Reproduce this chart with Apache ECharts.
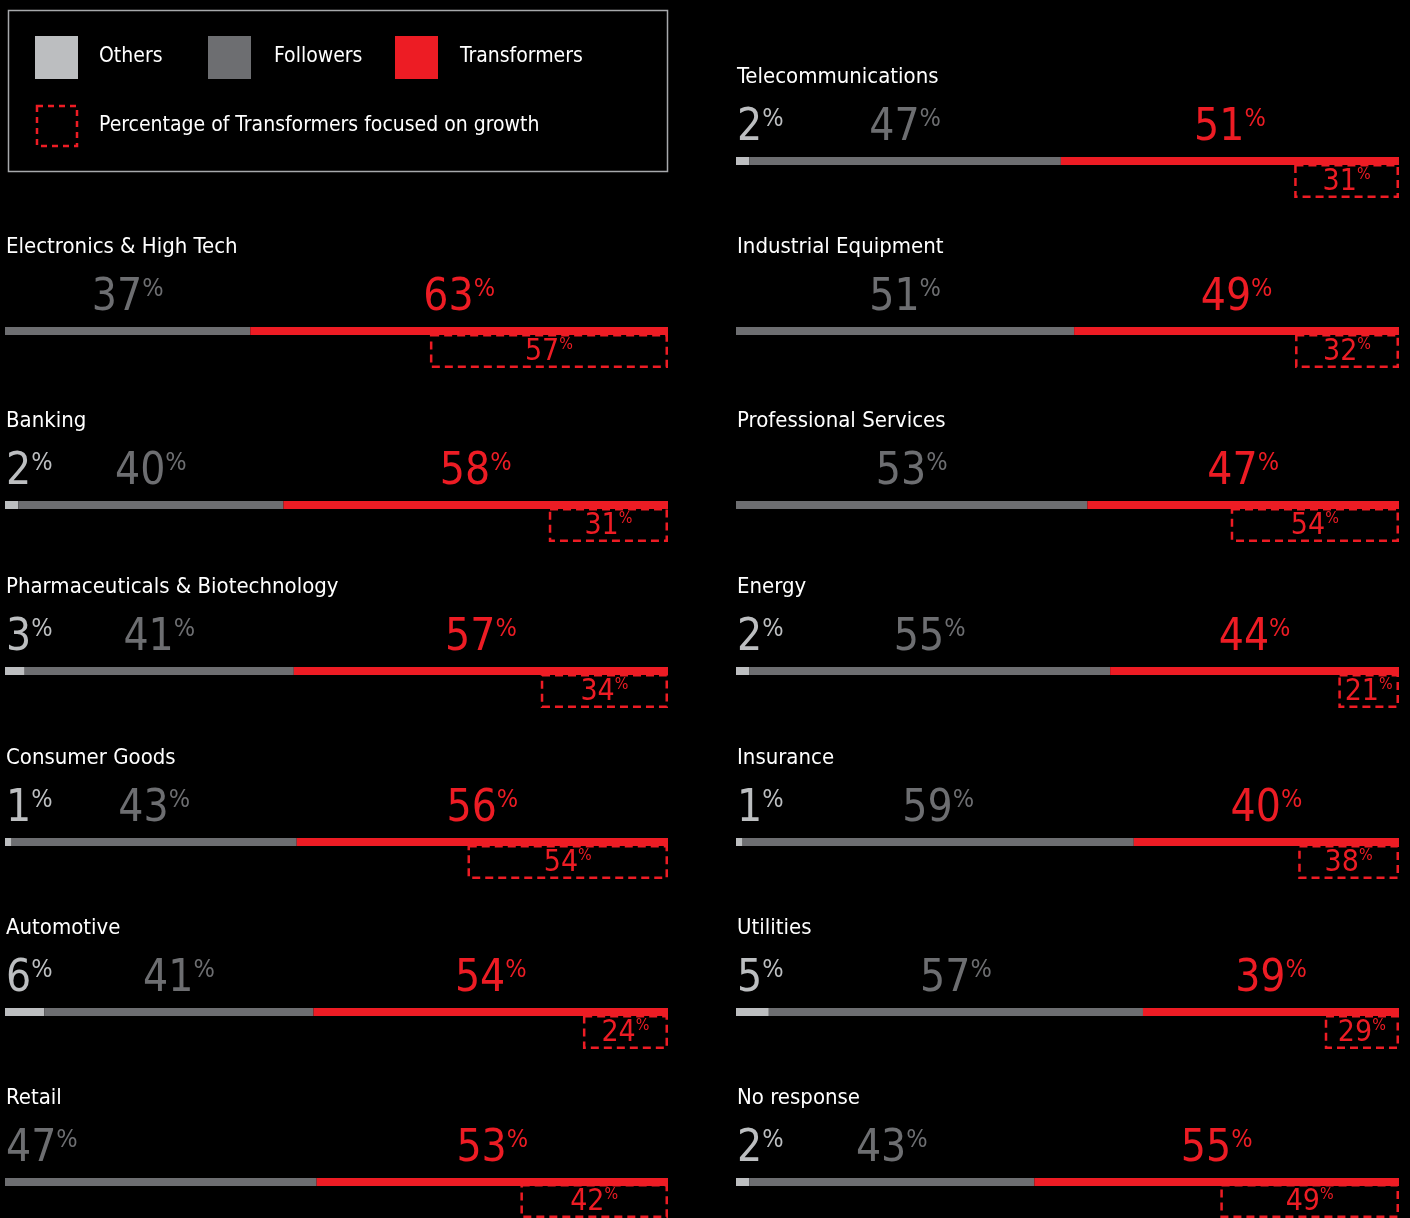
<!DOCTYPE html>
<html>
<head>
<meta charset="utf-8">
<script src="https://cdn.jsdelivr.net/npm/echarts@6/dist/echarts.min.js"></script>
<style>
  html, body { margin: 0; padding: 0; background: #000; }
  #chart { width: 1410px; height: 1218px; }
</style>
</head>
<body>
<div id="chart"></div>
<script>
// data (left column first, then right column)
var sectors = ['Electronics & High Tech', 'Banking', 'Pharmaceuticals & Biotechnology', 'Consumer Goods',
  'Automotive', 'Retail', 'Telecommunications', 'Industrial Equipment', 'Professional Services',
  'Energy', 'Insurance', 'Utilities', 'No response'];
var others       = [0, 2, 3, 1, 6, 0, 2, 0, 0, 2, 1, 5, 2];
var followers    = [37, 40, 41, 43, 41, 47, 47, 51, 53, 55, 59, 57, 43];
var transformers = [63, 58, 57, 56, 54, 53, 51, 49, 47, 44, 40, 39, 55];
var growth       = [57, 31, 34, 54, 24, 42, 31, 32, 54, 21, 38, 29, 49];

var FONT = '"Liberation Sans Narrow", "DejaVu Sans Condensed", sans-serif';
var C_OTH = '#bcbec0', C_FOL = '#6d6e71', C_TR = '#ed1c24';
var rowTop = [157, 327, 501, 667, 838, 1008, 1178];
var BAR_W = 663;
var leftAlignFollowers = ['Retail'];

function place(i) {
  return i < 6 ? { x: 5, row: i + 1 } : { x: 736, row: i - 6 };
}

function pctRich(color, big, small) {
  return {
    n: { fontSize: big, fontFamily: FONT, color: color },
    p: { fontSize: small, fontFamily: FONT, color: color, verticalAlign: 'top' }
  };
}

var grid = [], xAxis = [], yAxis = [], series = [], title = [];

sectors.forEach(function (name, i) {
  var p = place(i), top = rowTop[p.row];
  var total = others[i] + followers[i] + transformers[i];
  var g = grid.length;
  var boxVal = transformers[i] * growth[i] / 100;

  grid.push({ left: p.x, top: top, width: BAR_W, height: 8 });
  grid.push({ left: p.x, top: top + 6, width: BAR_W, height: 36 });
  [g, g + 1].forEach(function (k) {
    xAxis.push({ type: 'value', gridIndex: k, min: 0, max: total, show: false });
    yAxis.push({ type: 'category', gridIndex: k, data: [name], show: false });
  });

  title.push({
    text: name, left: p.x + 1, top: top - 91, padding: 0,
    textStyle: { color: '#fff', fontSize: 22, fontWeight: 'normal', fontFamily: FONT }
  });

  function numLabel(v, color, leftAlign) {
    var lbl = {
      show: v > 0,
      formatter: '{n|' + v + '}{p|%}',
      rich: pctRich(color, 44, 25)
    };
    if (leftAlign) {
      lbl.position = [1, -6];
      lbl.align = 'left';
      lbl.verticalAlign = 'bottom';
    } else {
      lbl.position = 'top';
      lbl.distance = 6;
    }
    return lbl;
  }

  var base = { type: 'bar', xAxisIndex: g, yAxisIndex: g, stack: 'p' + i, barWidth: 8, silent: true, z: 3 };
  series.push(Object.assign({}, base, {
    name: 'Others', data: [others[i]], itemStyle: { color: C_OTH },
    label: numLabel(others[i], C_OTH, true)
  }));
  series.push(Object.assign({}, base, {
    name: 'Followers', data: [followers[i]], itemStyle: { color: C_FOL },
    label: numLabel(followers[i], C_FOL, leftAlignFollowers.indexOf(name) >= 0)
  }));
  series.push(Object.assign({}, base, {
    name: 'Transformers', data: [transformers[i]], itemStyle: { color: C_TR },
    label: numLabel(transformers[i], C_TR, false)
  }));

  // dashed box: share of transformers focused on growth, right aligned to bar end
  var bbase = { type: 'bar', xAxisIndex: g + 1, yAxisIndex: g + 1, stack: 'b' + i, barWidth: 34, silent: true, z: 1 };
  series.push(Object.assign({}, bbase, {
    data: [total - boxVal], itemStyle: { color: 'rgba(0,0,0,0)' }
  }));
  series.push(Object.assign({}, bbase, {
    data: [boxVal],
    itemStyle: { color: 'rgba(0,0,0,0)', borderColor: C_TR, borderWidth: 2.5, borderType: [8, 5] },
    label: {
      show: true, position: 'insideTop', distance: 3,
      formatter: '{n|' + growth[i] + '}{p|%}',
      rich: pctRich(C_TR, 30, 16)
    }
  }));
});

var legendText = { fill: '#fff', fontSize: 21, fontFamily: FONT, verticalAlign: 'middle' };
var graphic = [
  { type: 'rect', shape: { x: 8.5, y: 10.5, width: 659, height: 161 }, style: { fill: 'none', stroke: '#a7a9ac', lineWidth: 1.5 } },
  { type: 'rect', shape: { x: 35, y: 36, width: 43, height: 43 }, style: { fill: C_OTH } },
  { type: 'text', x: 99, y: 57, style: Object.assign({ text: 'Others' }, legendText) },
  { type: 'rect', shape: { x: 208, y: 36, width: 43, height: 43 }, style: { fill: C_FOL } },
  { type: 'text', x: 274, y: 57, style: Object.assign({ text: 'Followers' }, legendText) },
  { type: 'rect', shape: { x: 395, y: 36, width: 43, height: 43 }, style: { fill: C_TR } },
  { type: 'text', x: 460, y: 57, style: Object.assign({ text: 'Transformers' }, legendText) },
  { type: 'rect', shape: { x: 37, y: 106, width: 40, height: 40 }, style: { fill: 'none', stroke: C_TR, lineWidth: 2.5, lineDash: [6, 5] } },
  { type: 'text', x: 99, y: 126, style: Object.assign({ text: 'Percentage of Transformers focused on growth' }, legendText) }
];

var myChart = echarts.init(document.getElementById('chart'));
myChart.setOption({
  backgroundColor: '#000',
  animation: false,
  title: title,
  grid: grid,
  xAxis: xAxis,
  yAxis: yAxis,
  graphic: graphic,
  series: series
});
</script>
</body>
</html>
